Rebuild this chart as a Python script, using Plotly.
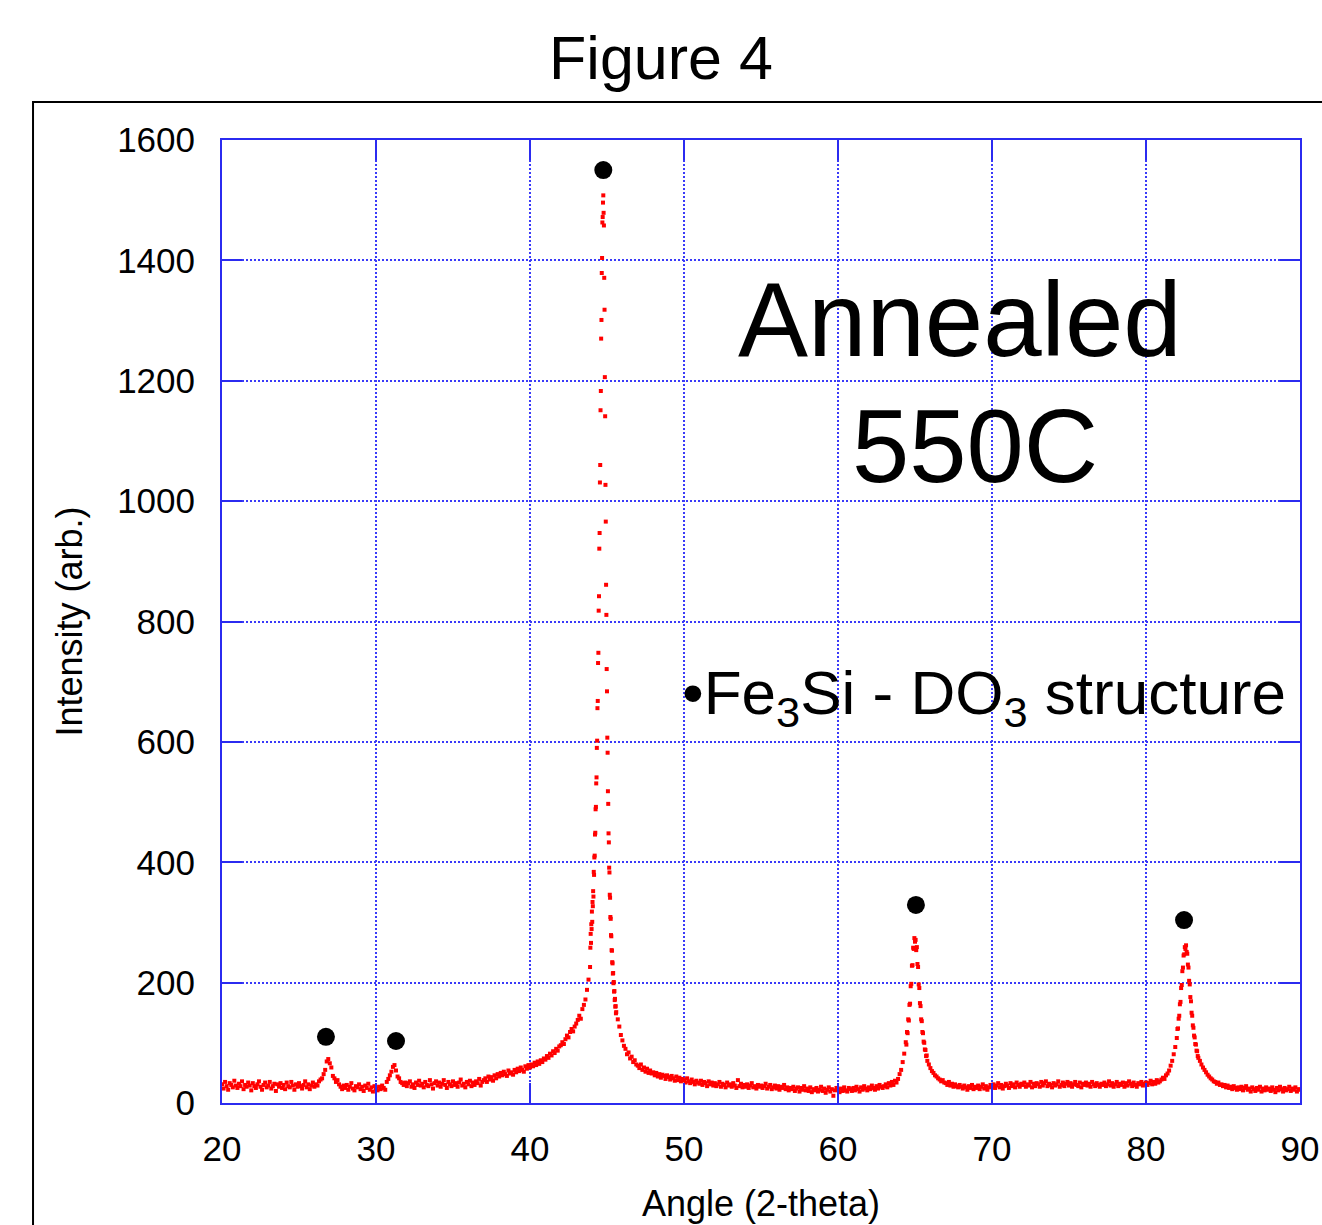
import plotly.graph_objects as go

# ---- Data ----
# Segment start angle, step, and intensities (arb.)
segA_start, segA_step = 20.0, 0.1
segA = [31, 24, 35, 28, 22, 33, 30, 26, 37, 29,
        25, 32, 28, 36, 23, 30, 27, 34, 29, 21,
        33, 28, 25, 31, 36, 27, 22, 30, 34, 26,
        29, 35, 24, 28, 32, 20, 31, 27, 33, 25,
        30, 23, 34, 28, 26, 35, 29, 22, 31, 27,
        33, 28, 24, 30, 36, 26, 31, 23, 29, 34,
        27, 31, 29, 36, 39, 41, 48, 55, 69, 73,
        66, 59, 45, 41, 35, 38, 31, 27, 23, 29,
        25, 30, 22, 27, 33, 24, 21, 28, 26, 31,
        23, 27, 20, 29, 25, 32, 22, 26, 19, 28,
        24, 21, 27, 23, 29, 25, 22, 35, 40, 46,
        52, 60, 63, 54, 44, 41, 35, 33, 30, 34,
        28, 33, 36, 27, 31, 25, 34, 30, 37, 29,
        32, 26, 35, 30, 28, 38, 31, 24, 33, 36,
        29, 34, 27, 32, 38, 30, 25, 35, 31, 28,
        36, 30, 33, 27, 34, 39, 29, 32, 26, 35,
        31, 37, 28, 34, 30, 36, 33, 40, 29, 35,
        38, 41, 35, 44, 39, 43, 37, 46, 41, 48,
        44, 50, 46, 52, 48, 45, 54, 49, 51, 47,
        55, 51, 57, 53, 59, 55, 52, 61, 57, 63,
        59, 64, 61, 67, 63, 69, 65, 71, 68, 74,
        72, 78, 75, 82, 79, 86, 83, 90, 87, 94,
        96, 101, 98, 106, 112, 109, 118, 123, 119, 127,
        132, 138, 145, 140, 156, 163, 172, 188, 205, 226]

segB_start, segB_step = 43.92, 0.02
segB = [258, 281, 266, 297, 289, 318, 301, 334, 327, 352,
        343, 384, 379, 408, 411, 446, 449, 488, 492, 531,
        541, 590, 602, 656, 668, 731, 748, 818, 842, 921,
        947, 1031, 1060, 1151, 1183, 1270, 1301, 1379, 1404, 1463,
        1472, 1496, 1508,
        1479, 1458, 1371, 1318, 1206, 1141, 1027, 966, 861, 811,
        721, 684, 607, 582, 518, 497, 448, 433, 391, 383,
        346, 341, 309, 306, 279, 277, 254, 253, 234, 232,
        215, 216, 199, 201, 185, 186, 171, 173, 160, 161,
        149, 151]

segC_start, segC_step = 45.7, 0.1
segC = [139, 127, 113,
        104, 95, 90, 81, 84, 74, 77, 68, 71, 64,
        62, 58, 64, 55, 59, 52, 57, 50, 54, 49,
        51, 46, 50, 44, 48, 42, 47, 45, 40, 46,
        43, 39, 45, 41, 37, 44, 38, 42, 36, 40,
        38, 34, 41, 36, 33, 39, 35, 31, 37, 34,
        32, 37, 30, 35, 33, 28, 36, 31, 34, 29,
        33, 28, 31, 35, 27, 32, 30, 26, 34, 29,
        31, 27, 33, 29, 25, 38, 28, 32, 26, 30,
        27, 31, 25, 29, 33, 26, 28, 24, 30, 27,
        29, 25, 28, 32, 24, 27, 30, 23, 26, 29,
        24, 28, 22, 27, 25, 30, 23, 26, 21, 25,
        23, 27, 20, 24, 26, 19, 25, 22, 28, 21,
        24, 20, 26, 18, 23, 21, 25, 19, 22, 27,
        20, 24, 17, 22, 26, 19, 23, 12, 21, 25,
        22, 18, 24, 20, 26, 21, 19, 25, 23, 20,
        25, 21, 27, 23, 19, 26, 22, 28, 24, 21,
        26, 23, 29, 25, 22, 28, 24, 30, 27, 25,
        28, 31, 26, 33, 29, 35, 30, 37, 34, 40,
        48, 55, 68, 82]

segD_start, segD_step = 64.40, 0.04
segD = [101, 97, 118, 116, 139, 137, 163, 165, 194, 198,
        228, 229, 258, 256, 274, 268, 271, 254, 259, 231,
        226, 197, 191, 166, 161, 139, 136, 118, 116, 102,
        100, 89, 88, 78, 79, 70]

segE_start, segE_step = 65.9, 0.1
segE = [64,
        58, 53, 50, 46, 44, 41, 39, 36, 38, 34,
        33, 30, 35, 29, 32, 27, 31, 28, 26, 30,
        27, 24, 29, 26, 22, 28, 25, 30, 23, 27,
        25, 29, 23, 27, 31, 24, 28, 22, 26, 30,
        27, 31, 25, 29, 33, 26, 30, 24, 28, 32,
        29, 25, 33, 28, 31, 26, 34, 30, 27, 32,
        30, 34, 27, 31, 29, 35, 26, 32, 28, 33,
        31, 27, 35, 29, 33, 36, 28, 32, 30, 26,
        33, 29, 31, 36, 27, 30, 34, 28, 32, 35,
        29, 33, 27, 31, 35, 30, 28, 34, 26, 32,
        30, 34, 29, 32, 27, 35, 31, 28, 33, 30,
        27, 32, 30, 34, 28, 31, 36, 29, 33, 27,
        31, 35, 28, 32, 30, 34, 27, 33, 29, 36,
        32, 28, 34, 30, 27, 33, 31, 35, 29, 32,
        34, 30, 33, 37, 31, 35, 32, 38, 34, 36,
        39, 42, 40, 46, 49, 54, 62, 70, 81, 93]

segF_start, segF_step = 82.00, 0.04
segF = [108, 123, 124, 140, 145, 164, 168, 191, 196, 219,
        225, 245, 247, 259, 256, 262, 251, 248, 230, 225,
        203, 197, 176, 169, 150, 145, 129, 125, 112, 109,
        98, 97, 87, 86, 78, 75]

segG_start, segG_step = 83.5, 0.1
segG = [70, 64, 59, 55, 51,
        47, 44, 41, 39, 36, 35, 32, 34, 30, 31,
        28, 30, 26, 29, 25, 27, 23, 28, 25, 22,
        26, 23, 27, 21, 25, 28, 22, 24, 19, 26,
        23, 20, 25, 22, 27, 19, 24, 21, 26, 22,
        24, 20, 26, 22, 18, 25, 21, 27, 23, 19,
        25, 21, 23, 27, 20, 24, 22, 26, 19, 23,
        22]

# Fe3Si (DO3) reflections marked by black dots
peak_angles = [26.75, 31.3, 44.76, 65.06, 82.47]
peak_marks = [110, 103, 1550, 329, 304]

x_ticks = [20, 30, 40, 50, 60, 70, 80, 90]
y_ticks = [0, 200, 400, 600, 800, 1000, 1200, 1400, 1600]

# ---- Build angle/intensity arrays from the sampled segments ----
segments = [(segA_start, segA_step, segA), (segB_start, segB_step, segB),
            (segC_start, segC_step, segC), (segD_start, segD_step, segD),
            (segE_start, segE_step, segE), (segF_start, segF_step, segF),
            (segG_start, segG_step, segG)]
angle, intensity = [], []
for s0, ds, vals in segments:
    for i, v in enumerate(vals):
        angle.append(round(s0 + i * ds, 3))
        intensity.append(v)

FONT = "Liberation Sans, Arial, sans-serif"
BLUE = "#2b2bf0"

fig = go.Figure()
fig.add_trace(go.Scatter(x=angle, y=intensity, mode="markers",
                         marker=dict(symbol="square", size=4, color="#ff0000",
                                     line=dict(width=0)),
                         showlegend=False, hoverinfo="skip"))
fig.add_trace(go.Scatter(x=peak_angles, y=peak_marks, mode="markers",
                         marker=dict(symbol="circle", size=18, color="black"),
                         showlegend=False, cliponaxis=False, hoverinfo="skip"))

axis_common = dict(showline=True, linecolor=BLUE, linewidth=2, mirror="ticks",
                   ticks="inside", ticklen=20, tickwidth=2, tickcolor=BLUE,
                   showgrid=True, gridcolor="#3a3af8", gridwidth=1.5, griddash="2px,2px",
                   zeroline=False, automargin=False, ticklabeloverflow="allow",
                   tickfont=dict(family=FONT, size=35, color="black"))

fig.update_xaxes(range=[20, 90], tickvals=x_ticks, ticklabelstandoff=14, **axis_common,
                 title=dict(text="Angle (2-theta)", font=dict(family=FONT, size=36, color="black"),
                            standoff=24))
fig.update_yaxes(range=[0, 1600], tickvals=y_ticks, ticklabelstandoff=18, **axis_common,
                 title=dict(text="Intensity (arb.)", font=dict(family=FONT, size=36, color="black"),
                            standoff=24))

fig.add_annotation(xref="paper", yref="paper", x=0.6846, y=0.814,
                   xanchor="center", yanchor="middle",
                   text="Annealed", showarrow=False,
                   font=dict(family=FONT, size=105, color="black"))
fig.add_annotation(xref="paper", yref="paper", x=0.6985, y=0.682,
                   xanchor="center", yanchor="middle",
                   text="550C", showarrow=False,
                   font=dict(family=FONT, size=103, color="black"))
fig.add_annotation(xref="paper", yref="paper", x=0.4245, y=0.4216,
                   xanchor="left", yanchor="middle",
                   text="•Fe<sub>3</sub>Si - DO<sub>3</sub> structure", showarrow=False,
                   font=dict(family=FONT, size=62, color="black"))

# outer frame of the figure panel
fig.add_shape(type="rect", xref="paper", yref="paper",
              x0=-0.1753, x1=1.05, y0=-0.2, y1=1.0395,
              line=dict(color="black", width=2), fillcolor="rgba(0,0,0,0)", layer="below")

fig.update_layout(
    width=1322, height=1225,
    margin=dict(l=222, r=22, t=140, b=122, autoexpand=False),
    paper_bgcolor="white", plot_bgcolor="white",
    title=dict(text="Figure 4", x=0.5, xanchor="center", y=1 - 58 / 1225, yanchor="middle",
               font=dict(family=FONT, size=61, color="black")),
    showlegend=False,
)

fig.write_html("out.html", config={"displayModeBar": False},
               post_script="document.body.style.margin='0';document.body.style.overflow='hidden';")
